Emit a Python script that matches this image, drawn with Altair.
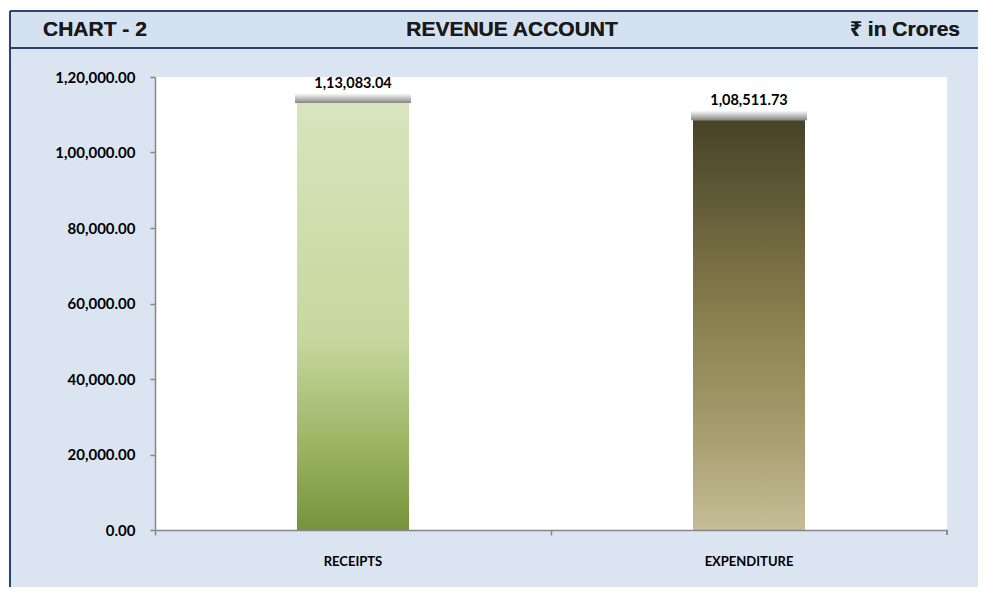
import altair as alt
import pandas as pd

# ---- data ----
categories = ["RECEIPTS", "EXPENDITURE"]
values = [113083.04, 108511.73]
value_labels = ["1,13,083.04", "1,08,511.73"]
tick_values = [0, 20000, 40000, 60000, 80000, 100000, 120000]
tick_labels = ["0.00", "20,000.00", "40,000.00", "60,000.00", "80,000.00", "1,00,000.00", "1,20,000.00"]
header_left = "CHART - 2"
header_center = "REVENUE ACCOUNT"
header_right = "₹ in Crores"

W, H = 792, 453
PAD_L, PAD_T = 147, 69
TOTAL_W, TOTAL_H = 970, 579

df = pd.DataFrame({"cat": categories, "val": values, "lbl": value_labels})

label_expr = "[" + ",".join("'" + t + "'" for t in tick_labels) + "][indexof([" + ",".join(str(v) for v in tick_values) + "], datum.value)]"

NAVY = "#1f3864"
BODY = "#dbe5f1"
HEAD = "#d3e1f0"

x_enc = alt.X("cat:N", sort=categories, title=None,
              scale=alt.Scale(paddingInner=0, paddingOuter=0),
              axis=alt.Axis(labelAngle=0, bandPosition=0, labelFont="Lato", labelFontWeight="bold",
                            labelFontSize=13, labelColor="#000000", labelPadding=20,
                            domainColor="#868686", domainWidth=1.5, tickColor="#868686",
                            tickWidth=1.5, tickSize=5, grid=False, zindex=2))
y_scale = alt.Scale(domain=[0, 120000], nice=False)
y_enc = alt.Y("val:Q", title=None, scale=y_scale,
              axis=alt.Axis(values=tick_values, labelExpr=label_expr, labelFont="Lato",
                            labelFontWeight="bold", labelFontSize=15, labelColor="#000000",
                            labelPadding=15, domainColor="#868686", domainWidth=1.5,
                            tickColor="#868686", tickWidth=1.5, tickSize=5, grid=False, zindex=2))

base = alt.Chart(df)

# decorative frame
frame = base.mark_rect(fill=BODY).encode(
    x=alt.value(-145), x2=alt.value(TOTAL_W - PAD_L + 20), y=alt.value(-66), y2=alt.value(TOTAL_H))
header_band = base.mark_rect(fill=HEAD).encode(
    x=alt.value(-145), x2=alt.value(TOTAL_W - PAD_L + 20), y=alt.value(-66), y2=alt.value(-29))
plot_bg = base.mark_rect(fill="#ffffff").encode(
    x=alt.value(0), x2=alt.value(W), y=alt.value(0), y2=alt.value(H))
line_top = base.mark_rule(color=NAVY, strokeWidth=1.5).encode(
    x=alt.value(-145), x2=alt.value(TOTAL_W - PAD_L + 20), y=alt.value(-66))
line_mid = base.mark_rule(color=NAVY, strokeWidth=1.5).encode(
    x=alt.value(-145), x2=alt.value(TOTAL_W - PAD_L + 20), y=alt.value(-29))
line_left = base.mark_rule(color=NAVY, strokeWidth=1.5).encode(
    x=alt.value(-145), y=alt.value(-66), y2=alt.value(TOTAL_H))

hdr_font = "Liberation Sans, Noto Sans, DejaVu Sans"
t_left = base.mark_text(text=header_left, font=hdr_font, fontWeight="bold", fontSize=21,
                        align="left", baseline="middle", color="#1a1a1a").encode(
    x=alt.value(-112), y=alt.value(-47))
t_center = base.mark_text(text=header_center, font=hdr_font, fontWeight="bold", fontSize=21,
                          align="center", baseline="middle", color="#1a1a1a").encode(
    x=alt.value(357), y=alt.value(-47))
t_right = base.mark_text(text=header_right, font=hdr_font, fontWeight="bold", fontSize=21,
                         align="right", baseline="middle", color="#1a1a1a").encode(
    x=alt.value(805), y=alt.value(-47))

grad_r = alt.LinearGradient(gradient="linear", x1=0, x2=0, y1=0, y2=1, stops=[
    alt.GradientStop(color="#d8e4bd", offset=0),
    alt.GradientStop(color="#c6d89f", offset=0.55),
    alt.GradientStop(color="#9bb564", offset=0.8),
    alt.GradientStop(color="#77933c", offset=1)])
grad_e = alt.LinearGradient(gradient="linear", x1=0, x2=0, y1=0, y2=1, stops=[
    alt.GradientStop(color="#484228", offset=0),
    alt.GradientStop(color="#8b8250", offset=0.5),
    alt.GradientStop(color="#a49c6c", offset=0.75),
    alt.GradientStop(color="#c4bd97", offset=1)])
grad_sh = alt.LinearGradient(gradient="linear", x1=0, x2=0, y1=0, y2=1, stops=[
    alt.GradientStop(color="rgba(140,140,140,0)", offset=0),
    alt.GradientStop(color="rgba(120,120,120,0.45)", offset=0.5),
    alt.GradientStop(color="rgba(100,100,100,0.8)", offset=1)])

shadow = base.mark_rect(fill=grad_sh, width=116, height=10, yOffset=-5).encode(
    x=x_enc, y=alt.Y("val:Q", scale=y_scale))

bar_r = base.transform_filter(alt.datum.cat == categories[0]).mark_bar(size=112, fill=grad_r).encode(x=x_enc, y=y_enc)
bar_e = base.transform_filter(alt.datum.cat == categories[1]).mark_bar(size=112, fill=grad_e).encode(x=x_enc, y=y_enc)

labels = base.mark_text(font="Lato", fontWeight="bold", fontSize=14.5, color="#000000",
                        baseline="bottom", dy=-12).encode(x=x_enc, y=alt.Y("val:Q", scale=y_scale), text="lbl:N")

end_tick = base.mark_rule(color="#868686", strokeWidth=1.5).encode(
    x=alt.value(W), y=alt.value(H), y2=alt.value(H + 5))

chart = alt.layer(frame, header_band, line_top, line_mid, line_left, t_left, t_center, t_right,
                  plot_bg, shadow, bar_r, bar_e, labels, end_tick).properties(
    width=W, height=H,
    autosize=alt.AutoSizeParams(type="none"),
    padding={"left": PAD_L, "top": PAD_T, "right": TOTAL_W - PAD_L - W, "bottom": TOTAL_H - PAD_T - H},
    background="#ffffff",
).configure_view(stroke=None)

chart.save("out.html", embed_options={"renderer": "svg", "actions": False})
